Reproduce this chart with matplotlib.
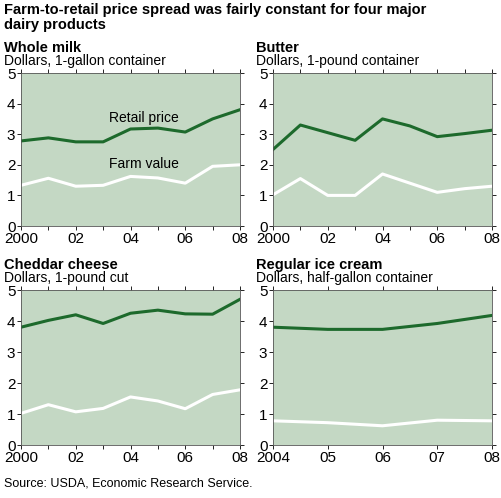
import matplotlib
matplotlib.use("Agg")
import matplotlib.pyplot as plt
plt.rcParams['font.family'] = ['Liberation Sans', 'DejaVu Sans']

years = [2000, 2001, 2002, 2003, 2004, 2005, 2006, 2007, 2008]
year_labels = ["2000", "", "02", "", "04", "", "06", "", "08"]
ice_years = [2004, 2005, 2006, 2007, 2008]
ice_labels = ["2004", "05", "06", "07", "08"]

milk_retail = [2.78, 2.88, 2.75, 2.75, 3.17, 3.2, 3.07, 3.5, 3.8]
milk_farm = [1.33, 1.56, 1.3, 1.33, 1.62, 1.57, 1.4, 1.95, 2.0]
butter_retail = [2.5, 3.3, 3.05, 2.8, 3.5, 3.27, 2.92, 3.02, 3.13]
butter_farm = [1.02, 1.55, 1.0, 1.0, 1.7, 1.4, 1.1, 1.22, 1.3]
cheese_retail = [3.8, 4.02, 4.2, 3.92, 4.25, 4.35, 4.23, 4.22, 4.7]
cheese_farm = [1.02, 1.3, 1.07, 1.18, 1.55, 1.42, 1.17, 1.63, 1.78]
ice_retail = [3.8, 3.73, 3.73, 3.92, 4.18]
ice_farm = [0.78, 0.72, 0.62, 0.8, 0.78]

BG = "#c4d8c4"
GREEN = "#1d6a2c"
W, H = 501, 498
fig = plt.figure(figsize=(W/100, H/100), dpi=100)

def box(x0, x1, ytop, ybot):
    return [x0/W, 1-ybot/H, (x1-x0)/W, (ybot-ytop)/H]

panels = [
    ("Whole milk", "Dollars, 1-gallon container", years, year_labels, milk_retail, milk_farm, box(21, 240, 73, 226)),
    ("Butter", "Dollars, 1-pound container", years, year_labels, butter_retail, butter_farm, box(273, 492, 73, 226)),
    ("Cheddar cheese", "Dollars, 1-pound cut", years, year_labels, cheese_retail, cheese_farm, box(21, 240, 290, 445)),
    ("Regular ice cream", "Dollars, half-gallon container", ice_years, ice_labels, ice_retail, ice_farm, box(273, 492, 290, 445)),
]
for i, (t, sub, xs, xl, r, f, rect) in enumerate(panels):
    ax = fig.add_axes(rect)
    ax.set_facecolor(BG)
    ax.plot(xs, r, color=GREEN, lw=2.2)
    ax.plot(xs, f, color="white", lw=2.2)
    ax.set_xlim(xs[0], xs[-1]); ax.set_ylim(0, 5)
    ax.set_xticks(xs); ax.set_xticklabels(xl, fontsize=11)
    ax.set_yticks(range(6)); ax.set_yticklabels([str(v) for v in range(6)], fontsize=11)
    ax.tick_params(direction="out", length=3, width=0.6, pad=1, top=True, right=True)
    for s in ax.spines.values():
        s.set_linewidth(0.6); s.set_color("#555555")
    ax.text(-17/219, 1.0 + 25/153, t, transform=ax.transAxes, fontsize=10.5, fontweight="bold", va="center")
    ax.text(-17/219, 1.0 + 12/153, sub, transform=ax.transAxes, fontsize=10, va="center")
    if i == 0:
        ax.text(2003.2, 3.4, "Retail price", fontsize=10)
        ax.text(2003.2, 1.88, "Farm value", fontsize=10)

fig.text(4/W, 1-3/H, "Farm-to-retail price spread was fairly constant for four major\ndairy products",
         fontsize=10.5, fontweight="bold", va="top", linespacing=1.05)
fig.text(4/W, 1-483/H, "Source: USDA, Economic Research Service.", fontsize=9, va="center")
fig.savefig("out.png", dpi=100)
